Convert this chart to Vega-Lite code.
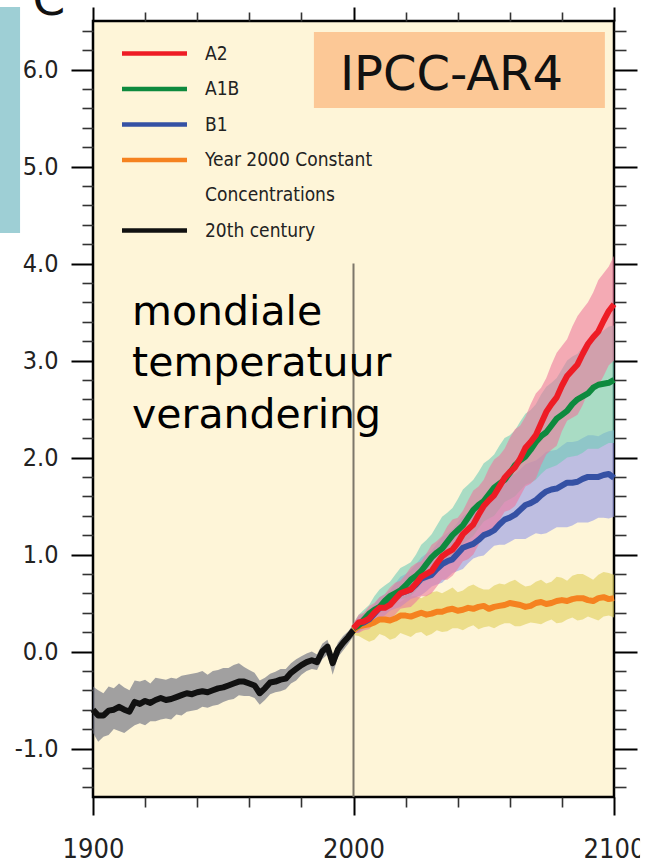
{
  "$schema": "https://vega.github.io/schema/vega-lite/v6.json",
  "width": 521,
  "height": 776,
  "autosize": {"type": "none"},
  "padding": {"left": 93, "top": 21, "right": 43, "bottom": 68},
  "background": "white",
  "config": {
    "view": {"fill": "#FEF5D8", "stroke": "#000000", "strokeWidth": 2.5}
  },
  "datasets": {
    "temps": [
      {"year": 1900, "scenario": "20th century", "mean": -0.60, "lo": -0.84, "hi": -0.36},
      {"year": 1902, "scenario": "20th century", "mean": -0.66, "lo": -0.93, "hi": -0.40},
      {"year": 1904, "scenario": "20th century", "mean": -0.66, "lo": -0.88, "hi": -0.43},
      {"year": 1906, "scenario": "20th century", "mean": -0.61, "lo": -0.86, "hi": -0.36},
      {"year": 1908, "scenario": "20th century", "mean": -0.60, "lo": -0.80, "hi": -0.38},
      {"year": 1910, "scenario": "20th century", "mean": -0.57, "lo": -0.82, "hi": -0.33},
      {"year": 1912, "scenario": "20th century", "mean": -0.60, "lo": -0.84, "hi": -0.37},
      {"year": 1914, "scenario": "20th century", "mean": -0.62, "lo": -0.80, "hi": -0.40},
      {"year": 1916, "scenario": "20th century", "mean": -0.52, "lo": -0.76, "hi": -0.30},
      {"year": 1918, "scenario": "20th century", "mean": -0.54, "lo": -0.74, "hi": -0.31},
      {"year": 1920, "scenario": "20th century", "mean": -0.51, "lo": -0.76, "hi": -0.29},
      {"year": 1922, "scenario": "20th century", "mean": -0.53, "lo": -0.72, "hi": -0.33},
      {"year": 1924, "scenario": "20th century", "mean": -0.50, "lo": -0.72, "hi": -0.27},
      {"year": 1926, "scenario": "20th century", "mean": -0.48, "lo": -0.70, "hi": -0.28},
      {"year": 1928, "scenario": "20th century", "mean": -0.50, "lo": -0.69, "hi": -0.29},
      {"year": 1930, "scenario": "20th century", "mean": -0.49, "lo": -0.70, "hi": -0.27},
      {"year": 1932, "scenario": "20th century", "mean": -0.47, "lo": -0.65, "hi": -0.28},
      {"year": 1934, "scenario": "20th century", "mean": -0.45, "lo": -0.66, "hi": -0.25},
      {"year": 1936, "scenario": "20th century", "mean": -0.43, "lo": -0.62, "hi": -0.24},
      {"year": 1938, "scenario": "20th century", "mean": -0.44, "lo": -0.61, "hi": -0.23},
      {"year": 1940, "scenario": "20th century", "mean": -0.42, "lo": -0.60, "hi": -0.22},
      {"year": 1942, "scenario": "20th century", "mean": -0.41, "lo": -0.57, "hi": -0.20},
      {"year": 1944, "scenario": "20th century", "mean": -0.42, "lo": -0.58, "hi": -0.24},
      {"year": 1946, "scenario": "20th century", "mean": -0.40, "lo": -0.56, "hi": -0.20},
      {"year": 1948, "scenario": "20th century", "mean": -0.38, "lo": -0.55, "hi": -0.19},
      {"year": 1950, "scenario": "20th century", "mean": -0.37, "lo": -0.52, "hi": -0.17},
      {"year": 1952, "scenario": "20th century", "mean": -0.35, "lo": -0.50, "hi": -0.17},
      {"year": 1954, "scenario": "20th century", "mean": -0.33, "lo": -0.49, "hi": -0.14},
      {"year": 1956, "scenario": "20th century", "mean": -0.31, "lo": -0.45, "hi": -0.12},
      {"year": 1958, "scenario": "20th century", "mean": -0.31, "lo": -0.46, "hi": -0.16},
      {"year": 1960, "scenario": "20th century", "mean": -0.33, "lo": -0.46, "hi": -0.19},
      {"year": 1962, "scenario": "20th century", "mean": -0.35, "lo": -0.48, "hi": -0.22},
      {"year": 1964, "scenario": "20th century", "mean": -0.43, "lo": -0.55, "hi": -0.30},
      {"year": 1966, "scenario": "20th century", "mean": -0.38, "lo": -0.50, "hi": -0.27},
      {"year": 1968, "scenario": "20th century", "mean": -0.32, "lo": -0.44, "hi": -0.23},
      {"year": 1970, "scenario": "20th century", "mean": -0.31, "lo": -0.42, "hi": -0.21},
      {"year": 1972, "scenario": "20th century", "mean": -0.29, "lo": -0.41, "hi": -0.18},
      {"year": 1974, "scenario": "20th century", "mean": -0.28, "lo": -0.39, "hi": -0.18},
      {"year": 1976, "scenario": "20th century", "mean": -0.22, "lo": -0.33, "hi": -0.12},
      {"year": 1978, "scenario": "20th century", "mean": -0.18, "lo": -0.30, "hi": -0.08},
      {"year": 1980, "scenario": "20th century", "mean": -0.14, "lo": -0.24, "hi": -0.05},
      {"year": 1982, "scenario": "20th century", "mean": -0.11, "lo": -0.20, "hi": -0.02},
      {"year": 1984, "scenario": "20th century", "mean": -0.09, "lo": -0.18, "hi": 0.00},
      {"year": 1986, "scenario": "20th century", "mean": -0.11, "lo": -0.19, "hi": -0.03},
      {"year": 1988, "scenario": "20th century", "mean": 0.00, "lo": -0.08, "hi": 0.08},
      {"year": 1990, "scenario": "20th century", "mean": 0.05, "lo": -0.03, "hi": 0.12},
      {"year": 1992, "scenario": "20th century", "mean": -0.12, "lo": -0.24, "hi": -0.04},
      {"year": 1994, "scenario": "20th century", "mean": 0.02, "lo": -0.06, "hi": 0.09},
      {"year": 1996, "scenario": "20th century", "mean": 0.09, "lo": 0.01, "hi": 0.16},
      {"year": 1998, "scenario": "20th century", "mean": 0.15, "lo": 0.08, "hi": 0.21},
      {"year": 2000, "scenario": "20th century", "mean": 0.22, "lo": 0.16, "hi": 0.28},

      {"year": 2000, "scenario": "Year 2000 Constant Concentrations", "mean": 0.22, "lo": 0.17, "hi": 0.27},
      {"year": 2002, "scenario": "Year 2000 Constant Concentrations", "mean": 0.26, "lo": 0.16, "hi": 0.35},
      {"year": 2004, "scenario": "Year 2000 Constant Concentrations", "mean": 0.27, "lo": 0.13, "hi": 0.40},
      {"year": 2006, "scenario": "Year 2000 Constant Concentrations", "mean": 0.28, "lo": 0.10, "hi": 0.44},
      {"year": 2008, "scenario": "Year 2000 Constant Concentrations", "mean": 0.30, "lo": 0.12, "hi": 0.46},
      {"year": 2010, "scenario": "Year 2000 Constant Concentrations", "mean": 0.33, "lo": 0.18, "hi": 0.47},
      {"year": 2012, "scenario": "Year 2000 Constant Concentrations", "mean": 0.33, "lo": 0.16, "hi": 0.50},
      {"year": 2014, "scenario": "Year 2000 Constant Concentrations", "mean": 0.32, "lo": 0.12, "hi": 0.52},
      {"year": 2016, "scenario": "Year 2000 Constant Concentrations", "mean": 0.34, "lo": 0.14, "hi": 0.52},
      {"year": 2018, "scenario": "Year 2000 Constant Concentrations", "mean": 0.37, "lo": 0.19, "hi": 0.51},
      {"year": 2020, "scenario": "Year 2000 Constant Concentrations", "mean": 0.37, "lo": 0.17, "hi": 0.55},
      {"year": 2022, "scenario": "Year 2000 Constant Concentrations", "mean": 0.36, "lo": 0.15, "hi": 0.57},
      {"year": 2024, "scenario": "Year 2000 Constant Concentrations", "mean": 0.38, "lo": 0.19, "hi": 0.57},
      {"year": 2026, "scenario": "Year 2000 Constant Concentrations", "mean": 0.40, "lo": 0.20, "hi": 0.55},
      {"year": 2028, "scenario": "Year 2000 Constant Concentrations", "mean": 0.38, "lo": 0.16, "hi": 0.58},
      {"year": 2030, "scenario": "Year 2000 Constant Concentrations", "mean": 0.39, "lo": 0.18, "hi": 0.61},
      {"year": 2032, "scenario": "Year 2000 Constant Concentrations", "mean": 0.41, "lo": 0.22, "hi": 0.62},
      {"year": 2034, "scenario": "Year 2000 Constant Concentrations", "mean": 0.41, "lo": 0.20, "hi": 0.60},
      {"year": 2036, "scenario": "Year 2000 Constant Concentrations", "mean": 0.43, "lo": 0.21, "hi": 0.63},
      {"year": 2038, "scenario": "Year 2000 Constant Concentrations", "mean": 0.44, "lo": 0.24, "hi": 0.66},
      {"year": 2040, "scenario": "Year 2000 Constant Concentrations", "mean": 0.42, "lo": 0.24, "hi": 0.61},
      {"year": 2042, "scenario": "Year 2000 Constant Concentrations", "mean": 0.43, "lo": 0.22, "hi": 0.63},
      {"year": 2044, "scenario": "Year 2000 Constant Concentrations", "mean": 0.45, "lo": 0.25, "hi": 0.67},
      {"year": 2046, "scenario": "Year 2000 Constant Concentrations", "mean": 0.44, "lo": 0.27, "hi": 0.69},
      {"year": 2048, "scenario": "Year 2000 Constant Concentrations", "mean": 0.46, "lo": 0.23, "hi": 0.66},
      {"year": 2050, "scenario": "Year 2000 Constant Concentrations", "mean": 0.47, "lo": 0.25, "hi": 0.64},
      {"year": 2052, "scenario": "Year 2000 Constant Concentrations", "mean": 0.44, "lo": 0.26, "hi": 0.64},
      {"year": 2054, "scenario": "Year 2000 Constant Concentrations", "mean": 0.46, "lo": 0.24, "hi": 0.68},
      {"year": 2056, "scenario": "Year 2000 Constant Concentrations", "mean": 0.47, "lo": 0.27, "hi": 0.70},
      {"year": 2058, "scenario": "Year 2000 Constant Concentrations", "mean": 0.48, "lo": 0.29, "hi": 0.69},
      {"year": 2060, "scenario": "Year 2000 Constant Concentrations", "mean": 0.50, "lo": 0.29, "hi": 0.72},
      {"year": 2062, "scenario": "Year 2000 Constant Concentrations", "mean": 0.49, "lo": 0.26, "hi": 0.74},
      {"year": 2064, "scenario": "Year 2000 Constant Concentrations", "mean": 0.48, "lo": 0.26, "hi": 0.70},
      {"year": 2066, "scenario": "Year 2000 Constant Concentrations", "mean": 0.46, "lo": 0.28, "hi": 0.67},
      {"year": 2068, "scenario": "Year 2000 Constant Concentrations", "mean": 0.47, "lo": 0.30, "hi": 0.68},
      {"year": 2070, "scenario": "Year 2000 Constant Concentrations", "mean": 0.50, "lo": 0.29, "hi": 0.72},
      {"year": 2072, "scenario": "Year 2000 Constant Concentrations", "mean": 0.51, "lo": 0.28, "hi": 0.74},
      {"year": 2074, "scenario": "Year 2000 Constant Concentrations", "mean": 0.49, "lo": 0.31, "hi": 0.70},
      {"year": 2076, "scenario": "Year 2000 Constant Concentrations", "mean": 0.50, "lo": 0.33, "hi": 0.72},
      {"year": 2078, "scenario": "Year 2000 Constant Concentrations", "mean": 0.52, "lo": 0.29, "hi": 0.77},
      {"year": 2080, "scenario": "Year 2000 Constant Concentrations", "mean": 0.53, "lo": 0.30, "hi": 0.76},
      {"year": 2082, "scenario": "Year 2000 Constant Concentrations", "mean": 0.52, "lo": 0.33, "hi": 0.73},
      {"year": 2084, "scenario": "Year 2000 Constant Concentrations", "mean": 0.54, "lo": 0.35, "hi": 0.78},
      {"year": 2086, "scenario": "Year 2000 Constant Concentrations", "mean": 0.55, "lo": 0.32, "hi": 0.80},
      {"year": 2088, "scenario": "Year 2000 Constant Concentrations", "mean": 0.55, "lo": 0.33, "hi": 0.80},
      {"year": 2090, "scenario": "Year 2000 Constant Concentrations", "mean": 0.53, "lo": 0.36, "hi": 0.77},
      {"year": 2092, "scenario": "Year 2000 Constant Concentrations", "mean": 0.52, "lo": 0.34, "hi": 0.74},
      {"year": 2094, "scenario": "Year 2000 Constant Concentrations", "mean": 0.55, "lo": 0.32, "hi": 0.79},
      {"year": 2096, "scenario": "Year 2000 Constant Concentrations", "mean": 0.56, "lo": 0.36, "hi": 0.82},
      {"year": 2098, "scenario": "Year 2000 Constant Concentrations", "mean": 0.54, "lo": 0.37, "hi": 0.81},
      {"year": 2100, "scenario": "Year 2000 Constant Concentrations", "mean": 0.55, "lo": 0.35, "hi": 0.79},

      {"year": 2000, "scenario": "B1", "mean": 0.24, "lo": 0.19, "hi": 0.29},
      {"year": 2002, "scenario": "B1", "mean": 0.28, "lo": 0.20, "hi": 0.36},
      {"year": 2004, "scenario": "B1", "mean": 0.30, "lo": 0.24, "hi": 0.39},
      {"year": 2006, "scenario": "B1", "mean": 0.33, "lo": 0.29, "hi": 0.43},
      {"year": 2008, "scenario": "B1", "mean": 0.39, "lo": 0.31, "hi": 0.49},
      {"year": 2010, "scenario": "B1", "mean": 0.45, "lo": 0.33, "hi": 0.56},
      {"year": 2012, "scenario": "B1", "mean": 0.47, "lo": 0.37, "hi": 0.59},
      {"year": 2014, "scenario": "B1", "mean": 0.49, "lo": 0.42, "hi": 0.63},
      {"year": 2016, "scenario": "B1", "mean": 0.55, "lo": 0.44, "hi": 0.70},
      {"year": 2018, "scenario": "B1", "mean": 0.60, "lo": 0.46, "hi": 0.77},
      {"year": 2020, "scenario": "B1", "mean": 0.62, "lo": 0.50, "hi": 0.80},
      {"year": 2022, "scenario": "B1", "mean": 0.64, "lo": 0.54, "hi": 0.84},
      {"year": 2024, "scenario": "B1", "mean": 0.69, "lo": 0.56, "hi": 0.90},
      {"year": 2026, "scenario": "B1", "mean": 0.75, "lo": 0.58, "hi": 0.97},
      {"year": 2028, "scenario": "B1", "mean": 0.77, "lo": 0.62, "hi": 1.01},
      {"year": 2030, "scenario": "B1", "mean": 0.79, "lo": 0.67, "hi": 1.04},
      {"year": 2032, "scenario": "B1", "mean": 0.85, "lo": 0.69, "hi": 1.11},
      {"year": 2034, "scenario": "B1", "mean": 0.90, "lo": 0.71, "hi": 1.18},
      {"year": 2036, "scenario": "B1", "mean": 0.93, "lo": 0.76, "hi": 1.22},
      {"year": 2038, "scenario": "B1", "mean": 0.95, "lo": 0.81, "hi": 1.26},
      {"year": 2040, "scenario": "B1", "mean": 1.01, "lo": 0.83, "hi": 1.33},
      {"year": 2042, "scenario": "B1", "mean": 1.07, "lo": 0.85, "hi": 1.40},
      {"year": 2044, "scenario": "B1", "mean": 1.09, "lo": 0.91, "hi": 1.43},
      {"year": 2046, "scenario": "B1", "mean": 1.11, "lo": 0.96, "hi": 1.46},
      {"year": 2048, "scenario": "B1", "mean": 1.15, "lo": 0.98, "hi": 1.53},
      {"year": 2050, "scenario": "B1", "mean": 1.20, "lo": 0.99, "hi": 1.59},
      {"year": 2052, "scenario": "B1", "mean": 1.22, "lo": 1.04, "hi": 1.62},
      {"year": 2054, "scenario": "B1", "mean": 1.25, "lo": 1.09, "hi": 1.66},
      {"year": 2056, "scenario": "B1", "mean": 1.31, "lo": 1.10, "hi": 1.74},
      {"year": 2058, "scenario": "B1", "mean": 1.36, "lo": 1.10, "hi": 1.79},
      {"year": 2060, "scenario": "B1", "mean": 1.38, "lo": 1.13, "hi": 1.81},
      {"year": 2062, "scenario": "B1", "mean": 1.41, "lo": 1.16, "hi": 1.83},
      {"year": 2064, "scenario": "B1", "mean": 1.46, "lo": 1.16, "hi": 1.88},
      {"year": 2066, "scenario": "B1", "mean": 1.51, "lo": 1.16, "hi": 1.93},
      {"year": 2068, "scenario": "B1", "mean": 1.53, "lo": 1.19, "hi": 1.95},
      {"year": 2070, "scenario": "B1", "mean": 1.56, "lo": 1.22, "hi": 1.97},
      {"year": 2072, "scenario": "B1", "mean": 1.61, "lo": 1.21, "hi": 2.01},
      {"year": 2074, "scenario": "B1", "mean": 1.65, "lo": 1.22, "hi": 2.06},
      {"year": 2076, "scenario": "B1", "mean": 1.67, "lo": 1.25, "hi": 2.07},
      {"year": 2078, "scenario": "B1", "mean": 1.68, "lo": 1.28, "hi": 2.08},
      {"year": 2080, "scenario": "B1", "mean": 1.71, "lo": 1.28, "hi": 2.12},
      {"year": 2082, "scenario": "B1", "mean": 1.74, "lo": 1.28, "hi": 2.16},
      {"year": 2084, "scenario": "B1", "mean": 1.74, "lo": 1.30, "hi": 2.16},
      {"year": 2086, "scenario": "B1", "mean": 1.75, "lo": 1.33, "hi": 2.17},
      {"year": 2088, "scenario": "B1", "mean": 1.78, "lo": 1.33, "hi": 2.20},
      {"year": 2090, "scenario": "B1", "mean": 1.80, "lo": 1.33, "hi": 2.23},
      {"year": 2092, "scenario": "B1", "mean": 1.80, "lo": 1.35, "hi": 2.23},
      {"year": 2094, "scenario": "B1", "mean": 1.80, "lo": 1.38, "hi": 2.22},
      {"year": 2096, "scenario": "B1", "mean": 1.82, "lo": 1.38, "hi": 2.25},
      {"year": 2098, "scenario": "B1", "mean": 1.83, "lo": 1.37, "hi": 2.27},
      {"year": 2100, "scenario": "B1", "mean": 1.79, "lo": 1.39, "hi": 2.28},

      {"year": 2000, "scenario": "A1B", "mean": 0.24, "lo": 0.19, "hi": 0.29},
      {"year": 2002, "scenario": "A1B", "mean": 0.27, "lo": 0.20, "hi": 0.38},
      {"year": 2004, "scenario": "A1B", "mean": 0.33, "lo": 0.26, "hi": 0.43},
      {"year": 2006, "scenario": "A1B", "mean": 0.39, "lo": 0.28, "hi": 0.48},
      {"year": 2008, "scenario": "A1B", "mean": 0.43, "lo": 0.34, "hi": 0.57},
      {"year": 2010, "scenario": "A1B", "mean": 0.46, "lo": 0.40, "hi": 0.64},
      {"year": 2012, "scenario": "A1B", "mean": 0.52, "lo": 0.42, "hi": 0.68},
      {"year": 2014, "scenario": "A1B", "mean": 0.57, "lo": 0.44, "hi": 0.72},
      {"year": 2016, "scenario": "A1B", "mean": 0.60, "lo": 0.49, "hi": 0.79},
      {"year": 2018, "scenario": "A1B", "mean": 0.63, "lo": 0.54, "hi": 0.86},
      {"year": 2020, "scenario": "A1B", "mean": 0.68, "lo": 0.55, "hi": 0.89},
      {"year": 2022, "scenario": "A1B", "mean": 0.74, "lo": 0.57, "hi": 0.92},
      {"year": 2024, "scenario": "A1B", "mean": 0.78, "lo": 0.63, "hi": 1.00},
      {"year": 2026, "scenario": "A1B", "mean": 0.83, "lo": 0.70, "hi": 1.10},
      {"year": 2028, "scenario": "A1B", "mean": 0.90, "lo": 0.73, "hi": 1.15},
      {"year": 2030, "scenario": "A1B", "mean": 0.97, "lo": 0.76, "hi": 1.21},
      {"year": 2032, "scenario": "A1B", "mean": 1.02, "lo": 0.84, "hi": 1.30},
      {"year": 2034, "scenario": "A1B", "mean": 1.06, "lo": 0.91, "hi": 1.39},
      {"year": 2036, "scenario": "A1B", "mean": 1.13, "lo": 0.94, "hi": 1.43},
      {"year": 2038, "scenario": "A1B", "mean": 1.20, "lo": 0.97, "hi": 1.48},
      {"year": 2040, "scenario": "A1B", "mean": 1.25, "lo": 1.04, "hi": 1.57},
      {"year": 2042, "scenario": "A1B", "mean": 1.30, "lo": 1.11, "hi": 1.67},
      {"year": 2044, "scenario": "A1B", "mean": 1.38, "lo": 1.15, "hi": 1.72},
      {"year": 2046, "scenario": "A1B", "mean": 1.46, "lo": 1.19, "hi": 1.77},
      {"year": 2048, "scenario": "A1B", "mean": 1.51, "lo": 1.27, "hi": 1.85},
      {"year": 2050, "scenario": "A1B", "mean": 1.55, "lo": 1.34, "hi": 1.94},
      {"year": 2052, "scenario": "A1B", "mean": 1.62, "lo": 1.37, "hi": 1.98},
      {"year": 2054, "scenario": "A1B", "mean": 1.69, "lo": 1.40, "hi": 2.03},
      {"year": 2056, "scenario": "A1B", "mean": 1.73, "lo": 1.47, "hi": 2.12},
      {"year": 2058, "scenario": "A1B", "mean": 1.77, "lo": 1.54, "hi": 2.20},
      {"year": 2060, "scenario": "A1B", "mean": 1.84, "lo": 1.57, "hi": 2.23},
      {"year": 2062, "scenario": "A1B", "mean": 1.92, "lo": 1.60, "hi": 2.28},
      {"year": 2064, "scenario": "A1B", "mean": 1.97, "lo": 1.66, "hi": 2.37},
      {"year": 2066, "scenario": "A1B", "mean": 2.01, "lo": 1.72, "hi": 2.45},
      {"year": 2068, "scenario": "A1B", "mean": 2.08, "lo": 1.74, "hi": 2.49},
      {"year": 2070, "scenario": "A1B", "mean": 2.16, "lo": 1.77, "hi": 2.55},
      {"year": 2072, "scenario": "A1B", "mean": 2.22, "lo": 1.83, "hi": 2.65},
      {"year": 2074, "scenario": "A1B", "mean": 2.26, "lo": 1.88, "hi": 2.73},
      {"year": 2076, "scenario": "A1B", "mean": 2.33, "lo": 1.90, "hi": 2.77},
      {"year": 2078, "scenario": "A1B", "mean": 2.40, "lo": 1.92, "hi": 2.82},
      {"year": 2080, "scenario": "A1B", "mean": 2.44, "lo": 1.96, "hi": 2.91},
      {"year": 2082, "scenario": "A1B", "mean": 2.48, "lo": 2.00, "hi": 3.00},
      {"year": 2084, "scenario": "A1B", "mean": 2.55, "lo": 2.01, "hi": 3.04},
      {"year": 2086, "scenario": "A1B", "mean": 2.60, "lo": 2.02, "hi": 3.07},
      {"year": 2088, "scenario": "A1B", "mean": 2.63, "lo": 2.05, "hi": 3.14},
      {"year": 2090, "scenario": "A1B", "mean": 2.66, "lo": 2.09, "hi": 3.22},
      {"year": 2092, "scenario": "A1B", "mean": 2.72, "lo": 2.09, "hi": 3.26},
      {"year": 2094, "scenario": "A1B", "mean": 2.75, "lo": 2.09, "hi": 3.27},
      {"year": 2096, "scenario": "A1B", "mean": 2.76, "lo": 2.12, "hi": 3.31},
      {"year": 2098, "scenario": "A1B", "mean": 2.77, "lo": 2.15, "hi": 3.35},
      {"year": 2100, "scenario": "A1B", "mean": 2.80, "lo": 2.15, "hi": 3.36},

      {"year": 2000, "scenario": "A2", "mean": 0.24, "lo": 0.19, "hi": 0.29},
      {"year": 2002, "scenario": "A2", "mean": 0.30, "lo": 0.19, "hi": 0.38},
      {"year": 2004, "scenario": "A2", "mean": 0.31, "lo": 0.22, "hi": 0.40},
      {"year": 2006, "scenario": "A2", "mean": 0.34, "lo": 0.23, "hi": 0.47},
      {"year": 2008, "scenario": "A2", "mean": 0.40, "lo": 0.29, "hi": 0.50},
      {"year": 2010, "scenario": "A2", "mean": 0.45, "lo": 0.32, "hi": 0.56},
      {"year": 2012, "scenario": "A2", "mean": 0.45, "lo": 0.33, "hi": 0.59},
      {"year": 2014, "scenario": "A2", "mean": 0.48, "lo": 0.33, "hi": 0.66},
      {"year": 2016, "scenario": "A2", "mean": 0.54, "lo": 0.38, "hi": 0.71},
      {"year": 2018, "scenario": "A2", "mean": 0.60, "lo": 0.44, "hi": 0.73},
      {"year": 2020, "scenario": "A2", "mean": 0.62, "lo": 0.45, "hi": 0.79},
      {"year": 2022, "scenario": "A2", "mean": 0.64, "lo": 0.46, "hi": 0.87},
      {"year": 2024, "scenario": "A2", "mean": 0.70, "lo": 0.51, "hi": 0.91},
      {"year": 2026, "scenario": "A2", "mean": 0.77, "lo": 0.57, "hi": 0.93},
      {"year": 2028, "scenario": "A2", "mean": 0.80, "lo": 0.57, "hi": 1.01},
      {"year": 2030, "scenario": "A2", "mean": 0.83, "lo": 0.60, "hi": 1.10},
      {"year": 2032, "scenario": "A2", "mean": 0.91, "lo": 0.67, "hi": 1.14},
      {"year": 2034, "scenario": "A2", "mean": 0.98, "lo": 0.74, "hi": 1.19},
      {"year": 2036, "scenario": "A2", "mean": 1.02, "lo": 0.74, "hi": 1.29},
      {"year": 2038, "scenario": "A2", "mean": 1.05, "lo": 0.78, "hi": 1.36},
      {"year": 2040, "scenario": "A2", "mean": 1.12, "lo": 0.85, "hi": 1.38},
      {"year": 2042, "scenario": "A2", "mean": 1.21, "lo": 0.93, "hi": 1.45},
      {"year": 2044, "scenario": "A2", "mean": 1.26, "lo": 0.95, "hi": 1.56},
      {"year": 2046, "scenario": "A2", "mean": 1.31, "lo": 1.00, "hi": 1.66},
      {"year": 2048, "scenario": "A2", "mean": 1.41, "lo": 1.10, "hi": 1.70},
      {"year": 2050, "scenario": "A2", "mean": 1.50, "lo": 1.19, "hi": 1.77},
      {"year": 2052, "scenario": "A2", "mean": 1.56, "lo": 1.21, "hi": 1.89},
      {"year": 2054, "scenario": "A2", "mean": 1.61, "lo": 1.25, "hi": 1.98},
      {"year": 2056, "scenario": "A2", "mean": 1.70, "lo": 1.35, "hi": 2.02},
      {"year": 2058, "scenario": "A2", "mean": 1.79, "lo": 1.44, "hi": 2.09},
      {"year": 2060, "scenario": "A2", "mean": 1.85, "lo": 1.46, "hi": 2.20},
      {"year": 2062, "scenario": "A2", "mean": 1.90, "lo": 1.50, "hi": 2.29},
      {"year": 2064, "scenario": "A2", "mean": 1.99, "lo": 1.60, "hi": 2.33},
      {"year": 2066, "scenario": "A2", "mean": 2.10, "lo": 1.70, "hi": 2.42},
      {"year": 2068, "scenario": "A2", "mean": 2.16, "lo": 1.73, "hi": 2.55},
      {"year": 2070, "scenario": "A2", "mean": 2.23, "lo": 1.78, "hi": 2.66},
      {"year": 2072, "scenario": "A2", "mean": 2.35, "lo": 1.92, "hi": 2.72},
      {"year": 2074, "scenario": "A2", "mean": 2.47, "lo": 2.03, "hi": 2.82},
      {"year": 2076, "scenario": "A2", "mean": 2.55, "lo": 2.08, "hi": 2.96},
      {"year": 2078, "scenario": "A2", "mean": 2.62, "lo": 2.12, "hi": 3.08},
      {"year": 2080, "scenario": "A2", "mean": 2.74, "lo": 2.27, "hi": 3.15},
      {"year": 2082, "scenario": "A2", "mean": 2.84, "lo": 2.38, "hi": 3.22},
      {"year": 2084, "scenario": "A2", "mean": 2.90, "lo": 2.41, "hi": 3.35},
      {"year": 2086, "scenario": "A2", "mean": 2.96, "lo": 2.44, "hi": 3.46},
      {"year": 2088, "scenario": "A2", "mean": 3.07, "lo": 2.54, "hi": 3.53},
      {"year": 2090, "scenario": "A2", "mean": 3.17, "lo": 2.67, "hi": 3.60},
      {"year": 2092, "scenario": "A2", "mean": 3.24, "lo": 2.72, "hi": 3.70},
      {"year": 2094, "scenario": "A2", "mean": 3.30, "lo": 2.74, "hi": 3.83},
      {"year": 2096, "scenario": "A2", "mean": 3.41, "lo": 2.84, "hi": 3.90},
      {"year": 2098, "scenario": "A2", "mean": 3.51, "lo": 2.95, "hi": 3.97},
      {"year": 2100, "scenario": "A2", "mean": 3.58, "lo": 3.00, "hi": 4.08}
    ]
  },
  "resolve": {
    "axis": {"x": "independent", "y": "independent"},
    "scale": {"color": "independent"},
    "legend": {"color": "independent"}
  },
  "layer": [
    {
      "data": {"values": [{}]},
      "mark": {"type": "rule", "color": "#7D776A", "strokeWidth": 2},
      "encoding": {
        "x": {
          "datum": 2000, "type": "quantitative",
          "scale": {"domain": [1900, 2100], "nice": false, "zero": false},
          "axis": {
            "orient": "bottom", "title": null, "domain": false, "grid": false,
            "values": [1900, 1920, 1940, 1960, 1980, 2000, 2020, 2040, 2060, 2080, 2100],
            "labelExpr": "datum.value % 100 === 0 ? '' + datum.value : ''",
            "tickSize": {"condition": {"test": "datum.value % 100 === 0", "value": 18}, "value": 10},
            "tickWidth": {"condition": {"test": "datum.value % 100 === 0", "value": 2}, "value": 1.6},
            "tickColor": {"condition": {"test": "datum.value % 100 === 0", "value": "#000000"}, "value": "#333333"},
            "labelFont": "DejaVu Sans Condensed, DejaVu Sans, sans-serif",
            "labelFontSize": 27, "labelColor": "#222222", "labelPadding": 21,
            "labelFlush": false, "labelOverlap": false, "labelBound": false
          }
        },
        "y": {
          "datum": -1.5, "type": "quantitative",
          "scale": {"domain": [-1.5, 6.5], "nice": false, "zero": false},
          "axis": {
            "orient": "left", "title": null, "domain": false, "grid": false,
            "values": [-1.4, -1.2, -1, -0.8, -0.6, -0.4, -0.2, 0, 0.2, 0.4, 0.6, 0.8, 1, 1.2, 1.4, 1.6, 1.8, 2, 2.2, 2.4, 2.6, 2.8, 3, 3.2, 3.4, 3.6, 3.8, 4, 4.2, 4.4, 4.6, 4.8, 5, 5.2, 5.4, 5.6, 5.8, 6, 6.2, 6.4],
            "labelExpr": "abs(datum.value - round(datum.value)) < 0.01 ? (datum.value < 0 ? '-' : '') + format(abs(datum.value), '.1f') : ''",
            "tickSize": {"condition": {"test": "abs(datum.value - round(datum.value)) < 0.01", "value": 22}, "value": 11},
            "tickWidth": {"condition": {"test": "abs(datum.value - round(datum.value)) < 0.01", "value": 2}, "value": 1.6},
            "tickColor": {"condition": {"test": "abs(datum.value - round(datum.value)) < 0.01", "value": "#000000"}, "value": "#333333"},
            "labelFont": "DejaVu Sans Condensed, DejaVu Sans, sans-serif",
            "labelFontSize": 25, "labelColor": "#222222", "labelPadding": 13,
            "labelFlush": false, "labelOverlap": false, "labelBound": false
          }
        },
        "y2": {"datum": 4.0}
      }
    },
    {
      "data": {"name": "temps"},
      "mark": {"type": "area", "opacity": 0.6},
      "encoding": {
        "x": {
          "field": "year", "type": "quantitative",
          "scale": {"domain": [1900, 2100], "nice": false, "zero": false},
          "axis": {
            "orient": "top", "title": null, "domain": false, "grid": false, "labels": false,
            "values": [1900, 1920, 1940, 1960, 1980, 2000, 2020, 2040, 2060, 2080, 2100],
            "tickSize": {"condition": {"test": "datum.value % 100 === 0", "value": 14}, "value": 9},
            "tickWidth": {"condition": {"test": "datum.value % 100 === 0", "value": 2}, "value": 1.6},
            "tickColor": {"condition": {"test": "datum.value % 100 === 0", "value": "#000000"}, "value": "#333333"}
          }
        },
        "y": {
          "field": "lo", "type": "quantitative",
          "scale": {"domain": [-1.5, 6.5], "nice": false, "zero": false},
          "axis": {
            "orient": "right", "title": null, "domain": false, "grid": false, "labels": false,
            "values": [-1.4, -1.2, -1, -0.8, -0.6, -0.4, -0.2, 0, 0.2, 0.4, 0.6, 0.8, 1, 1.2, 1.4, 1.6, 1.8, 2, 2.2, 2.4, 2.6, 2.8, 3, 3.2, 3.4, 3.6, 3.8, 4, 4.2, 4.4, 4.6, 4.8, 5, 5.2, 5.4, 5.6, 5.8, 6, 6.2, 6.4],
            "tickSize": {"condition": {"test": "abs(datum.value - round(datum.value)) < 0.01", "value": 23}, "value": 12},
            "tickWidth": {"condition": {"test": "abs(datum.value - round(datum.value)) < 0.01", "value": 2}, "value": 1.6},
            "tickColor": {"condition": {"test": "abs(datum.value - round(datum.value)) < 0.01", "value": "#000000"}, "value": "#333333"}
          }
        },
        "y2": {"field": "hi"},
        "color": {
          "field": "scenario", "type": "nominal",
          "scale": {
            "domain": ["A2", "A1B", "B1", "Year 2000 Constant Concentrations", "20th century"],
            "range": ["#ED789C", "#6FCBB7", "#9399E7", "#E0CF59", "#62677B"]
          },
          "legend": null
        }
      }
    },
    {
      "data": {"name": "temps"},
      "mark": {"type": "line", "strokeWidth": 6, "strokeJoin": "round"},
      "encoding": {
        "x": {"field": "year", "type": "quantitative", "scale": {"domain": [1900, 2100], "nice": false, "zero": false}, "axis": null},
        "y": {"field": "mean", "type": "quantitative", "scale": {"domain": [-1.5, 6.5], "nice": false, "zero": false}, "axis": null},
        "color": {
          "field": "scenario", "type": "nominal",
          "scale": {
            "domain": ["A2", "A1B", "B1", "Year 2000 Constant Concentrations", "20th century"],
            "range": ["#EE1C25", "#0E8A3E", "#3551A4", "#F58220", "#111111"]
          },
          "legend": {
            "orient": "none", "legendX": 51, "legendY": 22, "padding": 0,
            "title": null, "symbolType": "M-4,0H4", "symbolSize": 264, "symbolStrokeWidth": 4.5,
            "labelFont": "DejaVu Sans Condensed, DejaVu Sans, sans-serif",
            "labelFontSize": 19, "labelColor": "#222222", "labelOffset": 40, "labelLimit": 400,
            "labelBaseline": "middle", "rowPadding": 14.5,
            "labelExpr": "datum.label === 'Year 2000 Constant Concentrations' ? ['Year 2000 Constant', 'Concentrations'] : datum.label",
            "encode": {"labels": {"update": {"lineHeight": {"value": 35}}}}
          }
        }
      }
    },
    {
      "data": {"values": [{}]},
      "mark": {"type": "rect", "color": "#FCC896"},
      "encoding": {
        "x": {"datum": 1984.8, "type": "quantitative", "axis": null},
        "x2": {"datum": 2096.5},
        "y": {"datum": 6.387, "type": "quantitative", "axis": null},
        "y2": {"datum": 5.603}
      }
    },
    {
      "data": {"values": [{}]},
      "mark": {"type": "text", "text": "IPCC-AR4", "font": "DejaVu Sans", "fontSize": 48, "color": "#111111", "align": "center", "baseline": "alphabetic"},
      "encoding": {
        "x": {"datum": 2037.6, "type": "quantitative", "axis": null},
        "y": {"datum": 5.789, "type": "quantitative", "axis": null}
      }
    },
    {
      "data": {"values": [{}]},
      "mark": {"type": "text", "text": "mondiale\ntemperatuur\nverandering", "lineBreak": "\n", "lineHeight": 51.5, "font": "DejaVu Sans", "fontSize": 41, "color": "#000000", "align": "left", "baseline": "alphabetic"},
      "encoding": {
        "x": {"datum": 1915, "type": "quantitative", "axis": null},
        "y": {"datum": 3.366, "type": "quantitative", "axis": null}
      }
    },
    {
      "data": {"values": [{}]},
      "mark": {"type": "rect", "color": "#9ECFD5"},
      "encoding": {
        "x": {"datum": 1850, "type": "quantitative", "axis": null},
        "x2": {"datum": 1872.0},
        "y": {"datum": 6.644, "type": "quantitative", "axis": null},
        "y2": {"datum": 4.314}
      }
    },
    {
      "data": {"values": [{}]},
      "mark": {"type": "text", "text": "C", "font": "DejaVu Sans", "fontSize": 47, "color": "#111111", "align": "center", "baseline": "alphabetic"},
      "encoding": {
        "x": {"datum": 1883.1, "type": "quantitative", "axis": null},
        "y": {"datum": 6.562, "type": "quantitative", "axis": null}
      }
    },
    {
      "data": {"values": [{}]},
      "mark": {"type": "rect", "color": "#FFFFFF"},
      "encoding": {
        "x": {"datum": 2110.0, "type": "quantitative", "axis": null},
        "x2": {"datum": 2140},
        "y": {"datum": -3, "type": "quantitative", "axis": null},
        "y2": {"datum": 8}
      }
    }
  ]
}
